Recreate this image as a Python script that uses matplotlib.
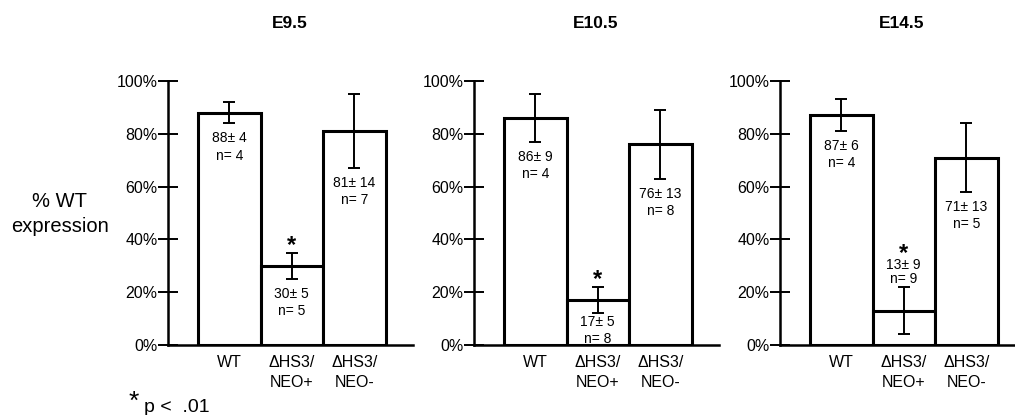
import matplotlib
matplotlib.use("Agg")
import matplotlib.pyplot as plt
from matplotlib.ticker import FuncFormatter

plt.rcParams['font.family'] = ['Liberation Sans', 'DejaVu Sans']

stages = ["E9.5", "E10.5", "E14.5"]
categories = ["WT", "\u0394HS3/\nNEO+", "\u0394HS3/\nNEO-"]
means = [[88, 30, 81], [86, 17, 76], [87, 13, 71]]
errors = [[4, 5, 14], [9, 5, 13], [6, 9, 13]]
counts = [[4, 5, 7], [4, 8, 8], [4, 9, 5]]
significant = [[False, True, False], [False, True, False], [False, True, False]]
label_above = [[False, False, False], [False, False, False], [False, True, False]]
yticks = [0, 20, 40, 60, 80, 100]

W, H = 1015, 415
fig = plt.figure(figsize=(W / 100, H / 100), dpi=100)

ax_lefts = [168, 474, 780]
ax_w, ax_bottom, ax_h = 245, 70, 264
x_lo, x_hi = -0.98, 2.94

for i, stage in enumerate(stages):
    ax = fig.add_axes([ax_lefts[i] / W, ax_bottom / H, ax_w / W, ax_h / H])
    x = list(range(len(categories)))
    ax.bar(x, means[i], width=1.0, color='white', edgecolor='black',
           linewidth=2.2, zorder=2)
    ax.errorbar(x, means[i], yerr=errors[i], fmt='none', ecolor='black',
                elinewidth=1.4, capsize=4, capthick=1.4, zorder=3)
    ax.set_xlim(x_lo, x_hi)
    ax.set_ylim(0, 100)
    ax.set_yticks(yticks)
    ax.yaxis.set_major_formatter(FuncFormatter(lambda v, p: f"{int(v)}%"))
    ax.set_xticks(x)
    ax.set_xticklabels(categories, fontsize=11.5, linespacing=1.4)
    ax.tick_params(axis='x', length=0, pad=7)
    ax.tick_params(axis='y', direction='inout', length=15, width=1.4,
                   labelsize=11.5, pad=0)
    for s in ['top', 'right']:
        ax.spines[s].set_visible(False)
    ax.spines['left'].set_linewidth(1.8)
    ax.spines['bottom'].set_linewidth(1.8)
    ax.set_title(stage, fontsize=12.5, fontweight='bold', pad=38,
                 x=(1.0 - x_lo) / (x_hi - x_lo) - 0.01)
    px = ax_h / 100.0
    for j in x:
        m, e, n = means[i][j], errors[i][j], counts[i][j]
        txt = f"{m}\u00b1 {e}\nn= {n}"
        if label_above[i][j]:
            ax.annotate(txt, (j, m + e), xytext=(0, 1), textcoords='offset pixels',
                        ha='center', va='bottom', fontsize=10, linespacing=1.0)
            star_center = (m + e) * px + 37
        else:
            off = min(8, (m - e) * px - 30)
            ax.annotate(txt, (j, m - e), xytext=(0, -off), textcoords='offset pixels',
                        ha='center', va='top', fontsize=10, linespacing=1.3)
            star_center = (m + e) * px + 11
        if significant[i][j]:
            ax.annotate("*", (j, 0), xytext=(0, star_center - 10),
                        textcoords='offset pixels', ha='center', va='baseline',
                        fontsize=17, fontweight='bold')

fig.text(60 / W, 1 - 214 / H, "% WT\nexpression", ha='center', va='center',
         fontsize=14.5, linespacing=1.4)
fig.text(129 / W, 1 - 402 / H, "*", ha='left', va='center', fontsize=19)
fig.text(144 / W, 1 - 407 / H, "p <  .01", ha='left', va='center', fontsize=14)

fig.savefig("out.png", dpi=100)
